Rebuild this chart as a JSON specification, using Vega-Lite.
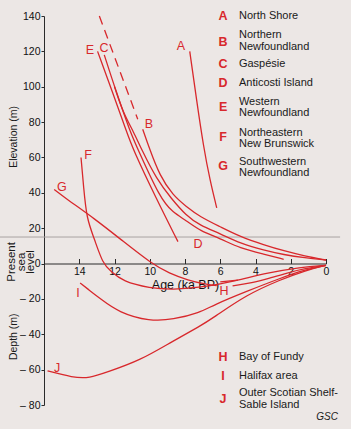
{
  "$schema": "https://vega.github.io/schema/vega-lite/v6.json",
  "width": 282,
  "height": 389,
  "autosize": {"type": "none"},
  "padding": {"left": 44, "top": 16, "right": 25, "bottom": 24},
  "background": "#ece7e5",
  "config": {
    "view": {"stroke": null},
    "font": "Liberation Sans",
    "axis": {"grid": false, "domainColor": "#2a2a2a", "tickColor": "#2a2a2a", "labelColor": "#111111", "titleColor": "#111111", "labelFont": "Liberation Sans", "titleFont": "Liberation Sans"}
  },
  "datasets": {
    "curves": [
      {"s":"A","age":7.73,"elev":120},{"s":"A","age":7.35,"elev":93},{"s":"A","age":6.95,"elev":66},{"s":"A","age":6.58,"elev":47},{"s":"A","age":6.2,"elev":31.5},
      {"s":"B","age":10.4,"elev":76},{"s":"B","age":10.01,"elev":64.8},{"s":"B","age":9.44,"elev":49.8},{"s":"B","age":8.68,"elev":38.5},{"s":"B","age":7.95,"elev":32.4},{"s":"B","age":7.15,"elev":26.4},{"s":"B","age":6.0,"elev":20.8},{"s":"B","age":4.88,"elev":15.2},{"s":"B","age":3.5,"elev":10.5},{"s":"B","age":2.4,"elev":7.2},{"s":"B","age":1.2,"elev":4.2},{"s":"B","age":0,"elev":2},
      {"s":"C","age":12.58,"elev":118},{"s":"C","age":11.9,"elev":97},{"s":"C","age":11.1,"elev":74.2},{"s":"C","age":10.68,"elev":64.8},{"s":"C","age":9.4,"elev":36.7},{"s":"C","age":8.7,"elev":29},{"s":"C","age":7.95,"elev":24.5},{"s":"C","age":7.15,"elev":18.5},{"s":"C","age":6.0,"elev":14.2},{"s":"C","age":4.88,"elev":8.6},{"s":"C","age":3.5,"elev":5.2},{"s":"C","age":2.4,"elev":2.4},
      {"s":"D","age":12.0,"elev":100},{"s":"D","age":11.5,"elev":85},{"s":"D","age":10.9,"elev":74.2},{"s":"D","age":10.48,"elev":64.8},{"s":"D","age":9.6,"elev":47.5},{"s":"D","age":8.77,"elev":36.7},{"s":"D","age":7.95,"elev":27.3},{"s":"D","age":7.15,"elev":21.5},{"s":"D","age":6.0,"elev":17},{"s":"D","age":4.88,"elev":11.4},{"s":"D","age":3.5,"elev":7.5},{"s":"D","age":2.4,"elev":5},{"s":"D","age":1.2,"elev":3.2},{"s":"D","age":0,"elev":2},
      {"s":"E","age":12.96,"elev":120},{"s":"E","age":12.13,"elev":97.4},{"s":"E","age":11.3,"elev":74.2},{"s":"E","age":10.96,"elev":64.8},{"s":"E","age":9.63,"elev":36.7},{"s":"E","age":8.4,"elev":12.4},
      {"s":"F","age":13.9,"elev":60},{"s":"F","age":13.75,"elev":43},{"s":"F","age":13.58,"elev":25.4},{"s":"F","age":13.15,"elev":14.2},{"s":"F","age":12.67,"elev":0},{"s":"F","age":12.2,"elev":-4.5},{"s":"F","age":11.53,"elev":-10.1},{"s":"F","age":10.0,"elev":-13.9},{"s":"F","age":8.68,"elev":-14.8},{"s":"F","age":7.16,"elev":-13.5},{"s":"F","age":6.0,"elev":-11.5},{"s":"F","age":4.88,"elev":-9.2},{"s":"F","age":3.36,"elev":-5.4},{"s":"F","age":1.46,"elev":-2},{"s":"F","age":0,"elev":-1},
      {"s":"G","age":15.42,"elev":41.9},{"s":"G","age":14.75,"elev":36.7},{"s":"G","age":13.13,"elev":25.4},{"s":"G","age":11.5,"elev":12.5},{"s":"G","age":9.9,"elev":0},{"s":"G","age":8.9,"elev":-5.5},{"s":"G","age":7.8,"elev":-9.5},{"s":"G","age":6.9,"elev":-11.5},{"s":"G","age":6.2,"elev":-12.5},
      {"s":"H","age":5.3,"elev":-12.6},{"s":"H","age":4.2,"elev":-11},{"s":"H","age":3.2,"elev":-8.2},{"s":"H","age":2.2,"elev":-5.3},{"s":"H","age":1.2,"elev":-2.8},{"s":"H","age":0,"elev":-1},
      {"s":"H2","age":6.0,"elev":-10.4},{"s":"H2","age":5.0,"elev":-9.4},
      {"s":"I","age":13.95,"elev":-11},{"s":"I","age":13.5,"elev":-14.5},{"s":"I","age":12.86,"elev":-19.5},{"s":"I","age":11.72,"elev":-27.9},{"s":"I","age":10.0,"elev":-32.6},{"s":"I","age":8.68,"elev":-31.7},{"s":"I","age":7.16,"elev":-27.8},{"s":"I","age":6.4,"elev":-23.5},{"s":"I","age":4.5,"elev":-15.7},{"s":"I","age":2.6,"elev":-8.3},{"s":"I","age":1.2,"elev":-3.5},{"s":"I","age":0,"elev":-1},
      {"s":"J","age":15.8,"elev":-60.7},{"s":"J","age":14.38,"elev":-64.5},{"s":"J","age":13.4,"elev":-64.8},{"s":"J","age":12.48,"elev":-61.6},{"s":"J","age":10.58,"elev":-55},{"s":"J","age":8.68,"elev":-43.8},{"s":"J","age":7.16,"elev":-35.5},{"s":"J","age":6.4,"elev":-30.7},{"s":"J","age":4.5,"elev":-17.6},{"s":"J","age":2.6,"elev":-9.2},{"s":"J","age":1.2,"elev":-4},{"s":"J","age":0,"elev":-1}
    ],
    "dashed": [
      {"s":"B","age":12.86,"elev":140},{"s":"B","age":10.68,"elev":81.6}
    ],
    "curveLetters": [
      {"t":"A","age":8.23,"elev":123},
      {"t":"B","age":10.04,"elev":78.9},
      {"t":"C","age":12.6,"elev":122},
      {"t":"E","age":13.39,"elev":120.8},
      {"t":"F","age":13.5,"elev":61.4},
      {"t":"G","age":14.98,"elev":43.3},
      {"t":"D","age":7.26,"elev":11},
      {"t":"H","age":5.79,"elev":-15.5},
      {"t":"I","age":14.07,"elev":-16.7},
      {"t":"J","age":15.26,"elev":-59.1}
    ],
    "legendLetters": [
      {"t":"A","age":5.84,"elev":140},
      {"t":"B","age":5.84,"elev":125.1},
      {"t":"C","age":5.84,"elev":112.7},
      {"t":"D","age":5.84,"elev":101.9},
      {"t":"E","age":5.84,"elev":88.4},
      {"t":"F","age":5.84,"elev":71.4},
      {"t":"G","age":5.84,"elev":55.4},
      {"t":"H","age":5.84,"elev":-52.7},
      {"t":"I","age":5.84,"elev":-63.4},
      {"t":"J","age":5.84,"elev":-76.8}
    ],
    "legendLabels": [
      {"t":["North Shore"],"age":4.94,"elev":140},
      {"t":["Northern","Newfoundland"],"age":4.94,"elev":129.2},
      {"t":["Gaspésie"],"age":4.94,"elev":112.8},
      {"t":["Anticosti Island"],"age":4.94,"elev":102.3},
      {"t":["Western","Newfoundland"],"age":4.94,"elev":91.5},
      {"t":["Northeastern","New Brunswick"],"age":4.94,"elev":74},
      {"t":["Southwestern","Newfoundland"],"age":4.94,"elev":57.6},
      {"t":["Bay of Fundy"],"age":4.94,"elev":-52.7},
      {"t":["Halifax area"],"age":4.94,"elev":-63.4},
      {"t":["Outer Scotian Shelf-","Sable Island"],"age":4.94,"elev":-73.3}
    ],
    "axisTitles": [
      {"t":"Elevation (m)","age":17.7,"elev":71.6},
      {"t":"Depth (m)","age":17.68,"elev":-41.4}
    ],
    "seaTitle": [
      {"t":["Present","sea","level"],"age":17.8,"elev":0.9}
    ],
    "paperLine": [{"age":18.5,"age2":-0.8,"elev":15}],
    "credit": [{"t":"GSC","age":-0.68,"elev":-87}]
  },
  "encoding": {
    "x": {"field":"age","type":"quantitative","scale":{"domain":[16,0],"nice":false,"zero":false},
      "axis":{"values":[14,12,10,8,6,4,2,0],"title":"Age (ka BP)","offset":-141.5,"tickSize":-5,"labelPadding":8,"labelFontSize":10.5,"titleFontSize":12.5,"titleFontWeight":"normal","titlePadding":1,"labelFlush":false}},
    "y": {"field":"elev","type":"quantitative","scale":{"domain":[-80,140],"nice":false,"zero":false},
      "axis":{"values":[140,120,100,80,60,40,20,0,-20,-40,-60,-80],"title":null,"tickSize":3,"labelPadding":1,"labelFontSize":10.5,"labelExpr":"datum.value < 0 ? '– ' + abs(datum.value) : datum.label"}}
  },
  "layer": [
    {"data":{"name":"paperLine"},"mark":{"type":"rule","color":"#a8a2a2","strokeWidth":1},
     "encoding":{"x2":{"field":"age2"}}},
    {"data":{"name":"curves"},"mark":{"type":"line","color":"#d8282c","strokeWidth":1.3,"interpolate":"basis"},
     "encoding":{"detail":{"field":"s"}}},
    {"data":{"name":"dashed"},"mark":{"type":"line","color":"#d8282c","strokeWidth":1.3,"strokeDash":[9,6]},
     "encoding":{"detail":{"field":"s"}}},
    {"data":{"name":"curveLetters"},"mark":{"type":"text","color":"#d8282c","fontSize":12.5,"align":"center","baseline":"middle"},
     "encoding":{"text":{"field":"t"}}},
    {"data":{"name":"legendLetters"},"mark":{"type":"text","color":"#d8282c","fontSize":12.5,"fontWeight":"bold","align":"center","baseline":"middle"},
     "encoding":{"text":{"field":"t"}}},
    {"data":{"name":"legendLabels"},"mark":{"type":"text","color":"#1a1a1a","fontSize":11,"align":"left","baseline":"middle","lineHeight":11.5},
     "encoding":{"text":{"field":"t"}}},
    {"data":{"name":"axisTitles"},"mark":{"type":"text","color":"#1a1a1a","fontSize":10.5,"align":"center","baseline":"middle","angle":270},
     "encoding":{"text":{"field":"t"}}},
    {"data":{"name":"seaTitle"},"mark":{"type":"text","color":"#1a1a1a","fontSize":11.5,"align":"center","baseline":"middle","angle":270,"lineHeight":9.5},
     "encoding":{"text":{"field":"t"}}},
    {"data":{"name":"credit"},"mark":{"type":"text","color":"#1a1a1a","fontSize":10,"fontStyle":"italic","align":"right","baseline":"middle"},
     "encoding":{"text":{"field":"t"}}}
  ]
}
